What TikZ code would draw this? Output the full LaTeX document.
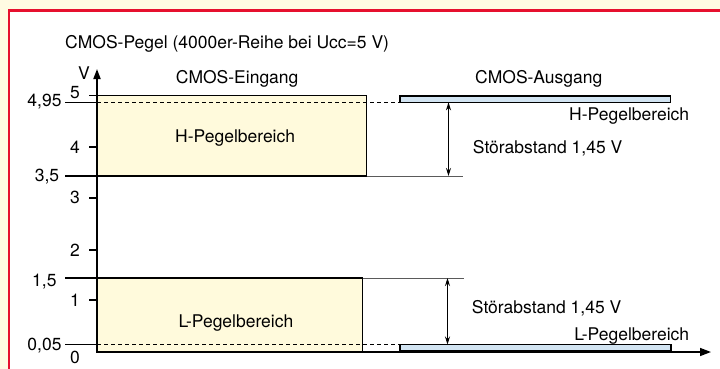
\documentclass[tikz,border=0pt]{standalone}
\usepackage{fontspec}
\setmainfont{TeX Gyre Heros}
\usetikzlibrary{arrows.meta}
\definecolor{cream}{RGB}{255,251,226}
\definecolor{boxfill}{RGB}{255,250,220}
\definecolor{barfill}{RGB}{210,228,242}
\definecolor{framered}{RGB}{230,16,46}
\definecolor{thingray}{RGB}{90,90,90}
\tikzset{
  lbl/.style={inner sep=0pt,font=\fontsize{17.5}{20}\selectfont},
  boxline/.style={draw=black,line width=1.5pt},
  regionbox/.style={boxline,fill=boxfill},
  outbar/.style={draw=black,line width=1.3pt,fill=barfill},
  tickline/.style={draw=black,line width=1.5pt},
  extline/.style={draw=thingray,line width=1pt},
  dashline/.style={draw=black,line width=0.9pt,dash pattern=on 4pt off 3pt},
  axisline/.style={draw=black,line width=1.8pt},
  dimarrow/.style={draw=black,line width=1pt,{Stealth[length=8pt,width=5pt]}-{Stealth[length=8pt,width=5pt]}}
}
\begin{document}
\begin{tikzpicture}[x=1pt,y=-1pt]
\useasboundingbox (0,0) rectangle (720,369);
% background and frame
\fill[cream] (0,0) rectangle (720,369);
\fill[white] (8.7,10.5) rectangle (720,369);
\draw[framered,line width=2.4pt] (8.7,369) -- (8.7,10.5) -- (720,10.5);

% coordinates
\coordinate (o) at (97,352);
\coordinate (ytop) at (97,69);
\coordinate (xend) at (711,352);
\coordinate (hbl) at (97,176);
\coordinate (htr) at (366.5,95.5);
\coordinate (lbl) at (97,352);
\coordinate (ltr) at (362.7,278);
\coordinate (hbarA) at (400,96);
\coordinate (hbarB) at (670.7,102.3);
\coordinate (lbarA) at (400,344.5);
\coordinate (lbarB) at (671,350.7);

% boxes
\draw[regionbox] (hbl) rectangle (htr);
\draw[regionbox] (lbl) rectangle (ltr);
\draw[outbar] (hbarA) rectangle (hbarB);
\draw[outbar] (lbarA) rectangle (lbarB);

% dashed level lines
\coordinate (d495a) at (97,102.3);
\coordinate (d495b) at (400,102.3);
\coordinate (d005a) at (97,344.3);
\coordinate (d005b) at (400,344.3);
\draw[dashline] (d495a) -- (d495b);
\draw[dashline] (d005a) -- (d005b);

% long level lines on the left
\coordinate (l495) at (65,102.3);
\coordinate (l35) at (65,176);
\coordinate (l15) at (65,278);
\coordinate (l005) at (65,344.3);
\draw[tickline] (l495) -- (d495a);
\draw[tickline] (l35) -- (hbl);
\draw[tickline] (l15) -- (97,278);
\draw[tickline] (l005) -- (d005a);

% extension lines on the right
\coordinate (e35a) at (366.5,176);
\coordinate (e35b) at (463,176);
\coordinate (e15a) at (362.7,278);
\coordinate (e15b) at (464,278);
\draw[extline] (e35a) -- (e35b);
\draw[extline] (e15a) -- (e15b);

% short ticks
\foreach \yy/\nm in {95.3/t5,147/t4,198/t3,250/t2,300/t1}{
  \coordinate (\nm) at (89,\yy);
  \draw[tickline] (\nm) -- (97,\yy);
}

% axes
\draw[axisline,-{Triangle[length=10pt,width=7pt]}] (o) -- (ytop);
\draw[draw=black,line width=1.5pt,-{Triangle[length=11pt,width=8pt]}] (o) -- (xend);

% dimension arrows
\coordinate (a1t) at (448.5,102.3);
\coordinate (a1b) at (448.5,176);
\coordinate (a2t) at (447.5,278);
\coordinate (a2b) at (447.5,344.5);
\draw[dimarrow] (a1t) -- (a1b);
\draw[dimarrow] (a2t) -- (a2b);

% texts
\node[lbl,anchor=base west] (title) at (65,48.3) {CMOS-Pegel (4000er-Reihe bei Ucc=5 V)};
\node[lbl,anchor=base east] (vlab) at (90,79.5) {V};
\node[lbl,anchor=base west] (ein) at (175.7,83.3) {CMOS-Eingang};
\node[lbl,anchor=base west] (aus) at (475,83.3) {CMOS-Ausgang};
\node[lbl,anchor=base west] (hin) at (175,142.7) {H-Pegelbereich};
\node[lbl,anchor=base east] (hout) at (689.3,120.7) {H-Pegelbereich};
\node[lbl,anchor=base west] (st1) at (472.7,153.3) {Störabstand 1,45 V};
\node[lbl,anchor=base west] (st2) at (471.7,313.3) {Störabstand 1,45 V};
\node[lbl,anchor=base east] (lout) at (689.3,340) {L-Pegelbereich};
\node[lbl,anchor=base west] (lin) at (178.3,327.7) {L-Pegelbereich};

% tick labels
\node[lbl,anchor=base east] (n5) at (80,98.3) {5};
\node[lbl,anchor=base east] (n495) at (61.7,106.7) {4,95};
\node[lbl,anchor=base east] (n4) at (80,153.3) {4};
\node[lbl,anchor=base east] (n35) at (59.3,181.7) {3,5};
\node[lbl,anchor=base east] (n3) at (80,203.3) {3};
\node[lbl,anchor=base east] (n2) at (80,256) {2};
\node[lbl,anchor=base east] (n15) at (56.7,286) {1,5};
\node[lbl,anchor=base east] (n1) at (80,306) {1};
\node[lbl,anchor=base east] (n005) at (61.7,350) {0,05};
\node[lbl,anchor=base east] (n0) at (80,363.3) {0};
\end{tikzpicture}
\end{document}
